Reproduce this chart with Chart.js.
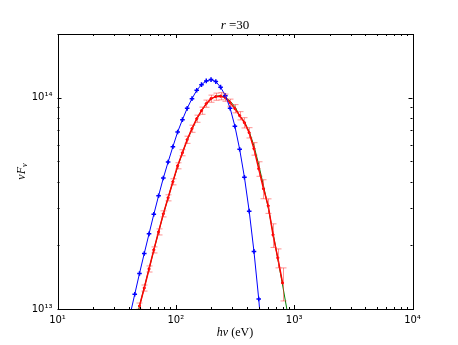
<!DOCTYPE html>
<html>
<head>
<meta charset="utf-8">
<script src="https://cdn.jsdelivr.net/npm/chart.js@4.4.1/dist/chart.umd.min.js"></script>
<style>
  html, body { margin: 0; padding: 0; background: #fff; }
  #wrap { width: 458px; height: 345px; }
</style>
</head>
<body>
<div id="wrap"><canvas id="sedChart" width="458" height="345"></canvas></div>
<script>
// photon energies (eV) and nuFnu for each curve
const blueE = [40.96, 44.95, 49.30, 54.10, 59.36, 65.14, 71.47, 78.42, 86.05, 94.41, 103.6, 113.7, 124.7, 136.9, 150.2,
    164.8, 180.8, 198.4, 217.7, 238.8, 262.1, 287.6, 315.5, 346.2, 379.9, 416.8, 457.3, 501.8, 550.6];
const blueF = [9.33e12, 1.174e13, 1.473e13, 1.832e13, 2.267e13, 2.805e13, 3.432e13, 4.164e13, 4.959e13, 5.859e13,
    6.878e13, 7.866e13, 8.899e13, 9.89e13, 1.083e14, 1.152e14, 1.2e14, 1.217e14, 1.191e14, 1.121e14, 1.022e14,
    8.917e13, 7.326e13, 5.701e13, 4.2e13, 2.904e13, 1.873e13, 1.115e13, 6.12e12];

const redE = [49.30, 54.10, 59.36, 65.14, 71.47, 78.42, 86.05, 94.41, 103.6, 113.7, 124.7, 136.9, 150.2, 164.8, 180.8,
    198.4, 217.7, 238.8, 262.1, 287.6, 315.5, 346.2, 379.9, 416.8, 457.3, 501.8, 550.6, 603.9, 662.7, 727.2, 797.9];
const redF = [1.033e13, 1.257e13, 1.547e13, 1.904e13, 2.317e13, 2.82e13, 3.358e13, 3.999e13, 4.761e13, 5.487e13,
    6.323e13, 7.131e13, 7.953e13, 8.678e13, 9.368e13, 9.892e13, 1.011e14, 1.016e14, 1.0e14, 9.47e13, 8.87e13,
    8.214e13, 7.612e13, 6.826e13, 5.733e13, 4.608e13, 3.705e13, 3.077e13, 2.242e13, 1.745e13, 1.328e13];
// relative error of the red points
const redErr = [0.033, 0.033, 0.033, 0.033, 0.033, 0.033, 0.033, 0.033, 0.033, 0.033,
    0.039, 0.039, 0.039, 0.039, 0.039, 0.039, 0.039, 0.039, 0.039, 0.039,
    0.045, 0.045, 0.056, 0.056, 0.068, 0.079, 0.103, 0.079, 0.128, 0.103, 0.178];

const greenE = [44.95, 49.30, 54.10, 59.36, 65.14, 71.47, 78.42, 86.05, 94.41, 103.6, 113.7, 124.7, 136.9, 150.2,
    164.8, 180.8, 198.4, 217.7, 238.8, 262.1, 287.6, 315.5, 346.2, 379.9, 416.8, 457.3, 501.8, 550.6, 603.9, 662.7,
    727.2, 797.9, 875.6];
const greenF = [8.4e12, 1.033e13, 1.264e13, 1.547e13, 1.894e13, 2.317e13, 2.805e13, 3.358e13, 3.999e13, 4.71e13,
    5.487e13, 6.29e13, 7.09e13, 7.91e13, 8.678e13, 9.316e13, 9.837e13, 1.016e14, 1.022e14, 1.005e14, 9.625e13,
    9.065e13, 8.214e13, 7.696e13, 6.902e13, 5.924e13, 4.814e13, 3.828e13, 3.01e13, 2.292e13, 1.726e13, 1.2997e13, 9.68e12];

const xRange = [10, 1e4];
const yRange = [1e13, 2e14];

const titleText = [['r', 'italic'], [' =30', 'normal']];
const xTitleText = [['h\u03bd', 'italic'], [' (eV)', 'normal']];
const yTitleText = [['\u03bdF', 'italic'], ['\u03bd', 'italic', 'sub']];

const SUP = { '0': '\u2070', '1': '\u00b9', '2': '\u00b2', '3': '\u00b3', '4': '\u2074', '5': '\u2075',
    '6': '\u2076', '7': '\u2077', '8': '\u2078', '9': '\u2079', '-': '\u207b' };

function powLabel(value) {
    const e = Math.log10(value);
    if (Math.abs(e - Math.round(e)) > 1e-6) return '';
    return '10' + String(Math.round(e)).split('').map(c => SUP[c]).join('');
}

function pts(xs, ys) {
    return xs.map((x, i) => ({ x: x, y: ys[i] }));
}

// draw a list of [text, style, sub] runs centred on (cx, cy)
function drawRuns(ctx, runs, cx, cy, size) {
    let total = 0;
    const parts = runs.map(r => {
        const s = r[2] === 'sub' ? size * 0.7 : size;
        const font = r[1] + ' ' + s + 'px "Liberation Serif", serif';
        ctx.font = font;
        const w = ctx.measureText(r[0]).width;
        total += w;
        return { t: r[0], font: font, w: w, dy: r[2] === 'sub' ? size * 0.25 : 0 };
    });
    let x = cx - total / 2;
    ctx.textBaseline = 'middle';
    ctx.textAlign = 'left';
    parts.forEach(p => {
        ctx.font = p.font;
        ctx.fillText(p.t, x, cy + p.dy);
        x += p.w;
    });
}

const errorBars = {
    id: 'errorBars',
    afterDatasetsDraw(chart) {
        const { ctx, chartArea: a, scales: { x, y } } = chart;
        ctx.save();
        ctx.beginPath();
        ctx.rect(a.left, a.top, a.right - a.left, a.bottom - a.top);
        ctx.clip();
        ctx.strokeStyle = 'rgba(255, 40, 40, 0.5)';
        ctx.lineWidth = 1;
        redE.forEach((e, i) => {
            const px = Math.round(x.getPixelForValue(e)) + 0.5;
            const y1 = y.getPixelForValue(redF[i] * (1 - redErr[i]));
            const y2 = y.getPixelForValue(redF[i] * (1 + redErr[i]));
            ctx.beginPath();
            ctx.moveTo(px, y1); ctx.lineTo(px, y2);
            ctx.moveTo(px - 3, y1); ctx.lineTo(px + 3, y1);
            ctx.moveTo(px - 3, y2); ctx.lineTo(px + 3, y2);
            ctx.stroke();
        });
        ctx.restore();
    }
};

const frameTicks = {
    id: 'frameTicks',
    afterDraw(chart) {
        const { ctx, chartArea: a, scales: { x, y } } = chart;
        ctx.save();
        ctx.strokeStyle = '#000';
        ctx.lineWidth = 1;
        ctx.beginPath();
        [[x, xRange], [y, yRange]].forEach(([sc, rg]) => {
            const e0 = Math.floor(Math.log10(rg[0]));
            const e1 = Math.ceil(Math.log10(rg[1]));
            for (let e = e0; e <= e1; e++) {
                for (let m = 1; m <= 9; m++) {
                    const v = m * Math.pow(10, e);
                    if (v < rg[0] * 0.999 || v > rg[1] * 1.001) continue;
                    const len = m === 1 ? 4 : 2;
                    const p = Math.round(sc.getPixelForValue(v)) + 0.5;
                    if (sc === x) {
                        ctx.moveTo(p, a.bottom); ctx.lineTo(p, a.bottom - len);
                        ctx.moveTo(p, a.top); ctx.lineTo(p, a.top + len);
                    } else {
                        ctx.moveTo(a.left, p); ctx.lineTo(a.left + len, p);
                        ctx.moveTo(a.right, p); ctx.lineTo(a.right - len, p);
                    }
                }
            }
        });
        ctx.stroke();
        ctx.strokeRect(Math.round(a.left) + 0.5, Math.round(a.top) + 0.5,
            Math.round(a.right - a.left), Math.round(a.bottom - a.top));

        ctx.fillStyle = '#000';
        const cx = (a.left + a.right) / 2;
        drawRuns(ctx, titleText, cx, 26, 13);
        drawRuns(ctx, xTitleText, cx, 333, 12);
        ctx.translate(22, (a.top + a.bottom) / 2);
        ctx.rotate(-Math.PI / 2);
        drawRuns(ctx, yTitleText, 0, 0, 12);
        ctx.restore();
    }
};

const ctx = document.getElementById('sedChart').getContext('2d');
const chart = new Chart(ctx, {
    type: 'line',
    data: {
        datasets: [{
            label: 'blue',
            data: pts(blueE, blueF),
            borderColor: '#0000ff',
            backgroundColor: '#0000ff',
            borderWidth: 1,
            pointStyle: 'cross',
            pointRadius: 2.3,
            pointBorderWidth: 1.5,
            fill: false,
            order: 1
        }, {
            label: 'red',
            data: pts(redE, redF),
            borderColor: '#ff0000',
            backgroundColor: '#ff0000',
            borderWidth: 1.5,
            pointStyle: 'circle',
            pointRadius: 1.1,
            pointBorderWidth: 1,
            fill: false,
            order: 2
        }, {
            label: 'green',
            data: pts(greenE, greenF),
            borderColor: '#008000',
            borderWidth: 1,
            pointRadius: 0,
            fill: false,
            order: 3
        }]
    },
    options: {
        responsive: false,
        animation: false,
        devicePixelRatio: 1,
        layout: { padding: { top: 34, right: 45.5, left: 0, bottom: 0 } },
        plugins: { legend: { display: false }, tooltip: { enabled: false } },
        scales: {
            x: {
                type: 'logarithmic',
                min: xRange[0],
                max: xRange[1],
                grid: { display: false, drawTicks: false },
                border: { display: false },
                afterFit: s => { s.height = 36; },
                ticks: {
                    autoSkip: false,
                    maxRotation: 0,
                    padding: 5,
                    color: '#000',
                    font: { family: 'DejaVu Sans', size: 10 },
                    callback: v => powLabel(v)
                }
            },
            y: {
                type: 'logarithmic',
                min: yRange[0],
                max: yRange[1],
                grid: { display: false, drawTicks: false },
                border: { display: false },
                afterFit: s => { s.width = 57.5; },
                ticks: {
                    autoSkip: false,
                    padding: 5,
                    color: '#000',
                    font: { family: 'DejaVu Sans', size: 10 },
                    callback: v => powLabel(v)
                }
            }
        }
    },
    plugins: [errorBars, frameTicks]
});
</script>
</body>
</html>
